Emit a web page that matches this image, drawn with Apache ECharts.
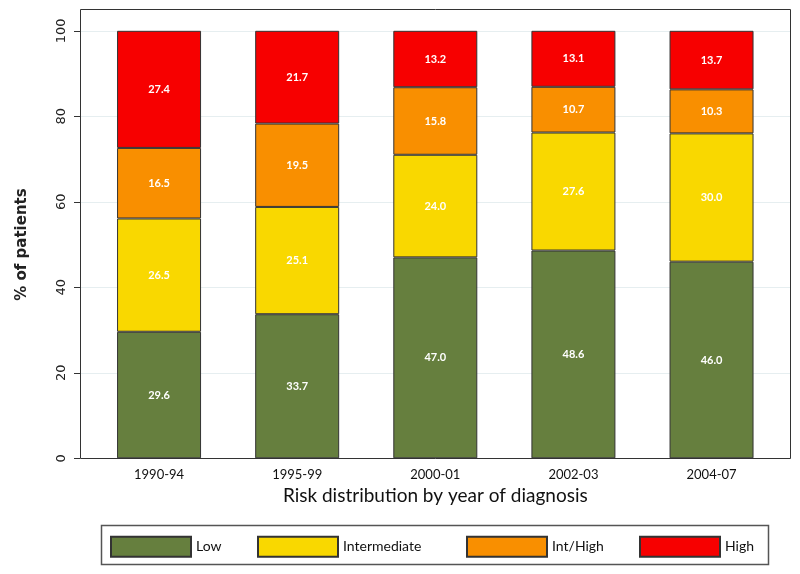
<!DOCTYPE html>
<html>
<head>
<meta charset="utf-8">
<script src="https://cdn.jsdelivr.net/npm/echarts@6/dist/echarts.min.js"></script>
<style>
html,body{margin:0;padding:0;background:#fff;}
#chart{width:800px;height:574px;}
</style>
</head>
<body>
<div id="chart"></div>
<script>
const categories = ['1990-94', '1995-99', '2000-01', '2002-03', '2004-07'];
const lowValues = [29.6, 33.7, 47.0, 48.6, 46.0];
const intermediateValues = [26.5, 25.1, 24.0, 27.6, 30.0];
const intHighValues = [16.5, 19.5, 15.8, 10.7, 10.3];
const highValues = [27.4, 21.7, 13.2, 13.1, 13.7];
const yTicks = [0, 20, 40, 60, 80, 100];

const seriesDefs = [
  {name: 'Low', data: lowValues, color: '#667f3e'},
  {name: 'Intermediate', data: intermediateValues, color: '#f9d800'},
  {name: 'Int/High', data: intHighValues, color: '#f98f00'},
  {name: 'High', data: highValues, color: '#f70000'}
];
const legendLefts = [110, 257, 466, 639];

const gill = 'Lato, "Open Sans", sans-serif';
const chart = echarts.init(document.getElementById('chart'));

const option = {
  animation: false,
  backgroundColor: '#fff',
  grid: [
    {left: 90, right: 19.4, top: 30.8, bottom: 115.7},
    {left: 80, right: 9, top: 30.8, bottom: 115.7}
  ],
  xAxis: [
    {
      type: 'category', gridIndex: 0, data: categories,
      axisLine: {show: false}, axisTick: {show: false},
      axisLabel: {fontFamily: gill, fontSize: 13, color: '#111', margin: 10},
      name: 'Risk distribution by year of diagnosis',
      nameLocation: 'middle', nameGap: 27,
      nameTextStyle: {fontFamily: gill, fontSize: 19, color: '#111'}
    },
    {type: 'value', gridIndex: 1, min: 0, max: 1, show: false}
  ],
  yAxis: [
    {type: 'value', gridIndex: 0, min: 0, max: 100, show: false},
    {
      type: 'value', gridIndex: 1, min: yTicks[0], max: yTicks[yTicks.length - 1], interval: 20,
      axisLine: {show: false},
      axisTick: {show: true, inside: false, length: 6, lineStyle: {color: '#333'}},
      axisLabel: {rotate: 90, margin: 12, fontFamily: '"DejaVu Sans", Verdana, sans-serif', fontSize: 13, color: '#222'},
      splitLine: {show: true, lineStyle: {color: '#e6eef0', width: 1}},
      name: '% of patients', nameLocation: 'middle', nameGap: 50,
      nameTextStyle: {fontFamily: '"DejaVu Sans", Verdana, sans-serif', fontSize: 15, fontWeight: 'bold', color: '#222'}
    }
  ],
  legend: seriesDefs.map((s, i) => ({
    data: [s.name], left: legendLefts[i], top: 535.7, padding: 0,
    itemWidth: 80, itemHeight: 20, icon: 'rect',
    textStyle: {fontFamily: gill, fontSize: 14, color: '#111'}
  })),
  graphic: [
    {type: 'rect', z: 100, shape: {x: 80.5, y: 9.5, width: 710, height: 449},
     style: {fill: 'none', stroke: '#333', lineWidth: 1}},
    {type: 'rect', z: 100, shape: {x: 101.5, y: 525.5, width: 667, height: 39},
     style: {fill: 'none', stroke: '#555', lineWidth: 1.5}}
  ],
  series: seriesDefs.map(s => ({
    name: s.name, type: 'bar', stack: 'total', data: s.data,
    xAxisIndex: 0, yAxisIndex: 0, barWidth: 84,
    itemStyle: {color: s.color, borderColor: '#333', borderWidth: 1},
    label: {show: true, position: 'inside', color: '#fff', fontWeight: 'bold',
            fontFamily: gill, fontSize: 11, formatter: p => p.value.toFixed(1)}
  }))
};
chart.setOption(option);
</script>
</body>
</html>
